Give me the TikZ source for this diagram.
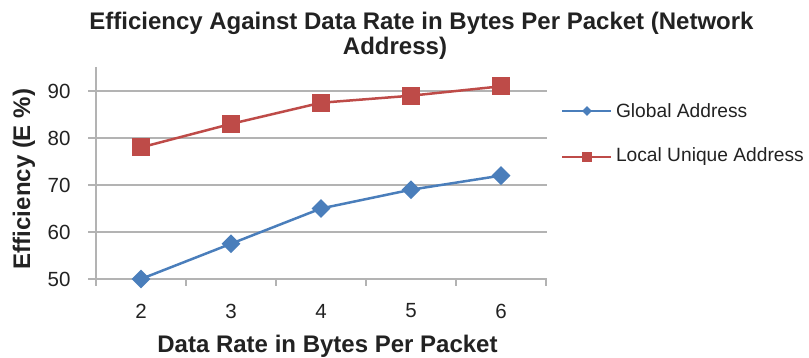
\documentclass[tikz,border=0pt]{standalone}
\usepackage{fontspec}
\setmainfont{Liberation Sans}
\usetikzlibrary{shapes.geometric}
\definecolor{gblue}{HTML}{4A7EBB}
\definecolor{lred}{HTML}{BE4B48}
\definecolor{gridgray}{HTML}{B3B3B3}
\definecolor{txt}{HTML}{222222}
\tikzset{
  gridline/.style={draw=gridgray, line width=1.4pt},
  gmark/.style={diamond, fill=gblue, inner sep=0pt, minimum width=19pt, minimum height=19pt},
  lmark/.style={rectangle, fill=lred, inner sep=0pt, minimum size=18pt},
  gline/.style={draw=gblue, line width=2.5pt},
  lline/.style={draw=lred, line width=2.5pt},
  ticklab/.style={font=\fontsize{20.5}{22}\selectfont, text=txt},
  axtitle/.style={font=\fontsize{24}{26}\selectfont\bfseries, text=txt},
  legtext/.style={font=\fontsize{19.2}{21}\selectfont, text=txt, anchor=west},
}
\newcommand{\yv}[1]{279-(#1-50)*4.7}
\begin{document}
\begin{tikzpicture}[x=1pt,y=-1pt]
\useasboundingbox (0,0) rectangle (809,358);
% gridlines
\foreach \v in {60,70,80,90} {
  \draw[gridline] (88,{\yv{\v}}) -- (547,{\yv{\v}});
}
% axes
\draw[gridline] (96,67) -- (96,279);
\draw[gridline] (88,279) -- (547,279);
\foreach \x in {96,186,276,366,456,546} {
  \draw[gridline] (\x,279) -- (\x,286);
}
% y tick labels
\foreach \v in {50,60,70,80,90} {
  \node[ticklab, anchor=east] (yt\v) at (74,{\yv{\v}}) {\v};
}
% x tick labels
\foreach \c/\x in {2/141,3/231,4/321,5/411,6/501} {
  \node[ticklab] (xt\c) at (\x,311) {\c};
}
% titles
\node[axtitle, anchor=base] (title1) at (421.5,30) {Efficiency Against Data Rate in Bytes Per Packet (Network};
\node[axtitle, anchor=base] (title2) at (395,55) {Address)};
\node[axtitle] (xtitle) at (327.5,346) {Data Rate in Bytes Per Packet};
\node[axtitle, rotate=90] (ytitle) at (24,179) {Efficiency (E \%)};
% data nodes
\foreach \c/\x/\g/\l in {2/141/50/78,3/231/57.5/83,4/321/65/87.5,5/411/69/89,6/501/72/91} {
  \coordinate (gp\c) at (\x,{\yv{\g}});
  \coordinate (lp\c) at (\x,{\yv{\l}});
}
\draw[gline] (gp2) -- (gp3) -- (gp4) -- (gp5) -- (gp6);
\draw[lline] (lp2) -- (lp3) -- (lp4) -- (lp5) -- (lp6);
\foreach \c in {2,...,6} {
  \node[gmark] (g\c) at (gp\c) {};
  \node[lmark] (l\c) at (lp\c) {};
}
% legend
\coordinate (lg1a) at (562,111);
\coordinate (lg1b) at (611,111);
\draw[gline, line width=2.2pt] (lg1a) -- (lg1b);
\node[gmark, minimum width=10pt, minimum height=10pt] (lgm1) at (587,111) {};
\node[legtext] (lgt1) at (612.5,111) {Global Address};
\coordinate (lg2a) at (562,157);
\coordinate (lg2b) at (611,157);
\draw[lline, line width=2.2pt] (lg2a) -- (lg2b);
\node[lmark, minimum size=10pt] (lgm2) at (587,157) {};
\node[legtext] (lgt2) at (612.5,157) {Local Unique Address};
\end{tikzpicture}
\end{document}
